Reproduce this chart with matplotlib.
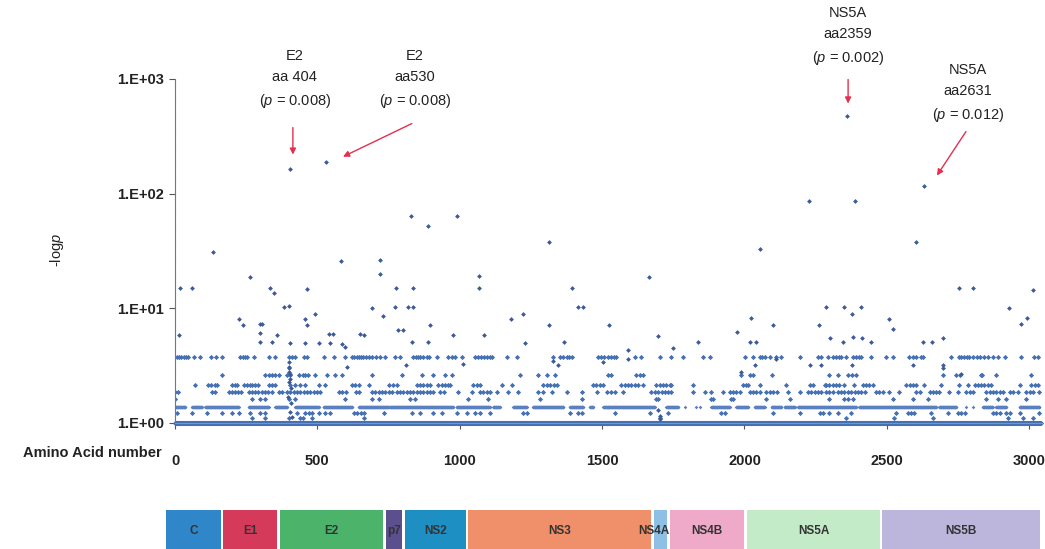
import matplotlib
matplotlib.use("Agg")
import matplotlib.pyplot as plt
import matplotlib.ticker as mticker
from matplotlib import font_manager
import numpy as np

# ---- data ----
# runs of residues sitting on the baseline (-logp = 1) and on the dense 1.37 band
baseline_runs = [(1, 3040)]
band_137_runs = [(1, 36), (60, 95), (107, 224), (259, 329), (352, 393), (423, 505),
                 (522, 622), (645, 751), (755, 977), (989, 1106), (1118, 1141),
                 (1188, 1235), (1258, 1364), (1387, 1434), (1457, 1469), (1504, 1685),
                 (1726, 1767), (1790, 1790), (1831, 1831), (1843, 1843), (1884, 1948),
                 (1972, 2013), (2036, 2071), (2095, 2130), (2141, 2177), (2188, 2392),
                 (2404, 2673), (2685, 2744), (2779, 2779), (2802, 2802), (2837, 2872),
                 (2884, 2919), (2966, 3036)]

band_110 = [270, 317, 399, 440, 451, 481, 663, 1702, 2356, 2526, 2662, 2925, 2980, 3012]
band_122 = [7, 60, 112, 165, 200, 224, 265, 300, 317, 429, 458, 470, 481, 505, 528, 546,
            628, 640, 652, 663, 733, 831, 860, 907, 937, 989, 1024, 1054, 1071, 1106,
            1223, 1235, 1387, 1417, 1428, 1544, 1667, 1732, 1919, 1931, 2101, 2194, 2264,
            2276, 2298, 2328, 2375, 2533, 2574, 2586, 2597, 2656, 2714, 2749, 2761, 2773,
            2872, 2884, 2896, 2919, 2931, 2966, 3036]
band_163 = [1, 270, 300, 317, 399, 423, 598, 692, 715, 825, 843, 1030, 1100, 1282, 1428,
            1691, 1697, 1884, 1890, 1954, 1960, 2077, 2159, 2298, 2351, 2363, 2380, 2521,
            2591, 2644, 2849, 2890, 2919, 2990]
band_186 = [1, 12, 130, 142, 189, 199, 210, 221, 233, 259, 270, 282, 293, 305, 317, 328,
            339, 364, 376, 393, 405, 417, 429, 440, 452, 464, 475, 487, 499, 511, 575, 587,
            599, 634, 645, 692, 703, 715, 727, 738, 750, 762, 779, 791, 802, 814, 825, 837,
            849, 861, 872, 884, 896, 907, 931, 946, 995, 1042, 1071, 1083, 1095, 1107, 1130,
            1171, 1206, 1276, 1294, 1323, 1376, 1429, 1481, 1516, 1533, 1544, 1574, 1673,
            1685, 1697, 1709, 1720, 1732, 1743, 1819, 1861, 1884, 1925, 1948, 1960, 1972,
            1983, 2019, 2030, 2042, 2054, 2077, 2089, 2101, 2113, 2153, 2194, 2223, 2235,
            2247, 2259, 2270, 2287, 2298, 2310, 2328, 2340, 2351, 2363, 2375, 2387, 2398,
            2410, 2422, 2462, 2474, 2486, 2509, 2544, 2603, 2615, 2650, 2662, 2674, 2685,
            2720, 2750, 2779, 2791, 2802, 2849, 2861, 2873, 2884, 2896, 2908, 2931, 2943,
            2960, 2990, 3002, 3013, 3036]
band_215 = [71, 116, 127, 140, 148, 200, 210, 218, 241, 252, 262, 272, 282, 293, 329, 342,
            352, 405, 420, 440, 457, 505, 528, 622, 633, 646, 680, 750, 767, 778, 849, 860,
            872, 884, 895, 925, 936, 948, 958, 966, 1048, 1060, 1071, 1147, 1183, 1294,
            1306, 1318, 1330, 1341, 1469, 1480, 1492, 1504, 1568, 1580, 1591, 1603, 1615,
            1627, 1645, 1691, 1702, 1714, 1726, 1737, 1743, 1819, 1995, 2007, 2013, 2054,
            2147, 2229, 2240, 2282, 2287, 2298, 2310, 2322, 2333, 2351, 2386, 2415, 2427,
            2439, 2451, 2568, 2580, 2592, 2603, 2632, 2691, 2755, 2784, 2808, 2820, 2832,
            2843, 2856, 2866, 2966, 3007, 3019, 3031]
band_260 = [165, 317, 330, 342, 352, 364, 393, 405, 435, 449, 458, 468, 493, 534, 563, 587,
            692, 796, 866, 907, 948, 972, 1212, 1276, 1306, 1335, 1522, 1533, 1620, 1632,
            1645, 1989, 2019, 2031, 2097, 2298, 2328, 2363, 2376, 2392, 2696, 2743, 2756,
            2831, 2836, 2884, 3007]
band_376 = [8, 15, 22, 30, 38, 45, 66, 89, 128, 145, 165, 230, 238, 246, 253, 276, 329,
            352, 400, 410, 423, 452, 463, 522, 557, 598, 622, 630, 638, 646, 654, 662, 670,
            680, 692, 706, 720, 738, 773, 790, 837, 845, 853, 862, 872, 884, 893, 919, 960,
            972, 983, 1007, 1054, 1064, 1075, 1085, 1096, 1106, 1112, 1165, 1200, 1329,
            1352, 1364, 1375, 1385, 1396, 1487, 1497, 1507, 1519, 1533, 1541, 1550, 1615,
            1638, 1702, 1743, 1784, 1855, 1878, 2001, 2030, 2054, 2063, 2071, 2089, 2112,
            2130, 2194, 2258, 2270, 2294, 2310, 2321, 2333, 2339, 2357, 2381, 2392, 2404,
            2410, 2445, 2497, 2521, 2579, 2591, 2603, 2620, 2626, 2726, 2755, 2760, 2770,
            2780, 2790, 2802, 2816, 2828, 2840, 2855, 2872, 2890, 2914, 2972, 3018, 3030]
band_values = {1.10: band_110, 1.22: band_122, 1.63: band_163, 1.86: band_186,
               2.15: band_215, 2.60: band_260, 3.76: band_376}

# scattered residues above the bands: (amino acid, -logp)
other_aa = [404, 530, 2359, 2631, 2227, 2388, 829, 889, 990, 1314, 2055, 2603, 132,
            263, 582, 720, 720, 1666, 1066, 1066,
            19, 60, 335, 347, 464, 776, 835, 1393, 2755, 2802, 3013,
            382, 402, 692, 773, 819, 835, 1417, 1434, 2288, 2351, 2410, 2929,
            455, 464, 493, 224, 239, 297, 305, 730, 895, 1179, 1223, 1315, 1524, 2024,
            2101, 2261, 2378, 2509, 2521, 2970, 2993,
            13, 300, 358, 540, 556, 651, 663, 784, 800, 977, 1086, 1697, 1975, 2299,
            2381, 2413, 2699,
            300, 341, 405, 455, 505, 546, 587, 598, 831, 890, 1229, 1367, 1837, 2019,
            2042, 2346, 2445, 2627, 2659, 1749, 1591,
            604, 813, 1013, 1329, 1346, 1504, 1591, 2036, 2229, 2270, 2112, 2697, 2697,
            2378, 2591, 1987, 2761,
            399, 399, 402, 404, 399, 406, 405, 401, 396, 408, 404, 410,
            1702, 1704, 1697]
other_val = [165, 190, 480, 117, 86, 86, 64, 52, 64, 38, 33, 38, 31,
             18.8, 26, 26.5, 20, 18.8, 19, 15,
             14.9, 14.9, 14.9, 13.5, 14.7, 14.9, 14.9, 14.9, 14.9, 14.9, 14.5,
             10.3, 10.5, 10, 10.3, 10.3, 10.3, 10.3, 10.3, 10.3, 10.3, 10.3, 10,
             8.1, 7.2, 9, 8.1, 7.2, 7.3, 7.3, 8.5, 7.2, 8, 9, 7.2, 7.2, 8.2,
             7.2, 7.2, 9, 8.1, 6.6, 7.3, 8.2,
             5.9, 6.1, 5.8, 6.0, 6.0, 6.0, 5.9, 6.5, 6.5, 5.9, 5.9, 5.7, 6.2, 5.5,
             5.6, 5.5, 5.5,
             5.1, 5.1, 5.0, 5.0, 5.0, 5.0, 4.9, 4.6, 5.1, 5.1, 5.0, 5.1, 5.1, 5.1,
             5.1, 5.1, 5.1, 5.1, 5.1, 4.5, 4.3,
             3.1, 3.2, 3.3, 3.5, 3.2, 3.4, 3.6, 3.2, 3.2, 3.2, 3.6, 3.2, 3.0,
             3.2, 3.2, 2.8, 2.7,
             3.0, 3.4, 2.8, 2.4, 2.3, 2.0, 2.7, 3.1, 1.7, 1.5, 1.25, 1.12,
             1.15, 1.08, 1.3]

# gene map (box edges in amino-acid units of the schematic)
genes = ["C", "E1", "E2", "p7", "NS2", "NS3", "NS4A", "NS4B", "NS5A", "NS5B"]
gene_start = [0, 200, 400, 773, 839, 1061, 1714, 1770, 2041, 2515]
gene_end = [193, 390, 762, 829, 1054, 1704, 1760, 2030, 2508, 3070]
gene_colors = ["#2f86c8", "#d63a5a", "#4cb36a", "#5b4f8e", "#1d8fc3", "#f0906a",
               "#8ec0e6", "#eeaac8", "#c3ebc8", "#bcb6dc"]

# highlighted sites: label text, position of label, arrow tail and tip
notes = ["E2\naa 404\n($\\it{p}$ = 0.008)", "E2\naa530\n($\\it{p}$ = 0.008)",
         "NS5A\naa2359\n($\\it{p}$ = 0.002)", "NS5A\naa2631\n($\\it{p}$ = 0.012)"]
note_xy = [(421, 990), (843, 990), (2364, 2350), (2785, 747)]
arrow_tail = [(414, 377), (832, 409), (2364, 990), (2778, 348)]
arrow_tip = [(414, 219), (590, 210), (2364, 611), (2676, 144)]

# ---- fonts ----
installed = {f.name for f in font_manager.fontManager.ttflist}
main_font = "Liberation Sans Narrow" if "Liberation Sans Narrow" in installed else "Liberation Sans"
plt.rcParams["font.family"] = [main_font, "DejaVu Sans"]
plt.rcParams["mathtext.fontset"] = "custom"
plt.rcParams["mathtext.it"] = main_font + ":italic"

dot_color = "#4470b4"
red = "#e3304f"

fig = plt.figure(figsize=(10.45, 5.49), dpi=100)
ax = fig.add_axes([175 / 1045, 1 - 423 / 549, 867 / 1045, 344 / 549])

def run_points(runs):
    return np.concatenate([np.arange(a, b + 1) for a, b in runs])

base_x = run_points(baseline_runs)
ax.scatter(base_x, np.ones(len(base_x)), s=7, marker="D", color=dot_color,
           linewidths=0, clip_on=False, zorder=2)
b137 = run_points(band_137_runs)
ax.scatter(b137, np.full(len(b137), 1.37), s=3.5, marker="D", color="#5a80c0",
           linewidths=0, zorder=2)
for val, xs in band_values.items():
    ax.scatter(xs, [val] * len(xs), s=7, marker="D", color=dot_color,
               linewidths=0, zorder=2)
ax.scatter(other_aa, other_val, s=6, marker="D", color="#3d5a98",
           linewidths=0, zorder=3)

ax.set_yscale("log")
ax.set_ylim(1, 1000)
ax.set_xlim(0, 3045)
ax.yaxis.set_major_locator(mticker.FixedLocator([1, 10, 100, 1000]))
ax.yaxis.set_major_formatter(mticker.FuncFormatter(
    lambda v, pos: "1.E+%02d" % int(round(np.log10(v)))))
ax.yaxis.set_minor_locator(mticker.NullLocator())
ax.set_xticks([0, 500, 1000, 1500, 2000, 2500, 3000])

for s in ["top", "right"]:
    ax.spines[s].set_visible(False)
ax.spines["left"].set_color("#777777")
ax.spines["left"].set_linestyle((0, (1, 0.6)))
ax.spines["bottom"].set_color("#999999")
ax.spines["bottom"].set_linewidth(0.6)
ax.tick_params(axis="y", length=4, width=0.8, color="#555555", pad=4,
               labelsize=10.5, labelcolor="#222222")
ax.tick_params(axis="x", length=4, width=0.8, color="#555555", pad=18,
               labelsize=10.5, labelcolor="#222222")
for lab in ax.get_xticklabels() + ax.get_yticklabels():
    lab.set_fontweight("bold")

fig.text(57 / 1045, 1 - 250 / 549, "-log$\\it{p}$", rotation=90, ha="center",
         va="center", fontsize=10.5, color="#222222")
fig.text(162 / 1045, 1 - 453 / 549, "Amino Acid number", ha="right", va="center",
         fontsize=10.5, fontweight="bold", color="#222222")

for txt, (tx, ty), tail, tip in zip(notes, note_xy, arrow_tail, arrow_tip):
    ax.text(tx, ty, txt, ha="center", va="center", fontsize=10.5, linespacing=1.6,
            color="#222222", clip_on=False)
    ax.annotate("", xy=tip, xytext=tail, annotation_clip=False,
                arrowprops=dict(arrowstyle="-|>", color=red, lw=1.0,
                                mutation_scale=9, shrinkA=0, shrinkB=0))

# gene map below the plot
gx = fig.add_axes([166 / 1045, 0, 879 / 1045, 39 / 549])
gx.barh([0] * len(genes), np.array(gene_end) - np.array(gene_start), left=gene_start,
        height=1.0, color=gene_colors, align="edge")
for name, a, b in zip(genes, gene_start, gene_end):
    cx = (a + b) / 2 - (25 if name == "NS4A" else 0)
    gx.text(cx, 0.47, name, ha="center", va="center", fontsize=8.5,
            fontweight="bold", color="#333333")
gx.set_xlim(0, 879 / 0.2847)
gx.set_ylim(0, 1)
gx.axis("off")

fig.savefig("out.png", dpi=100)
